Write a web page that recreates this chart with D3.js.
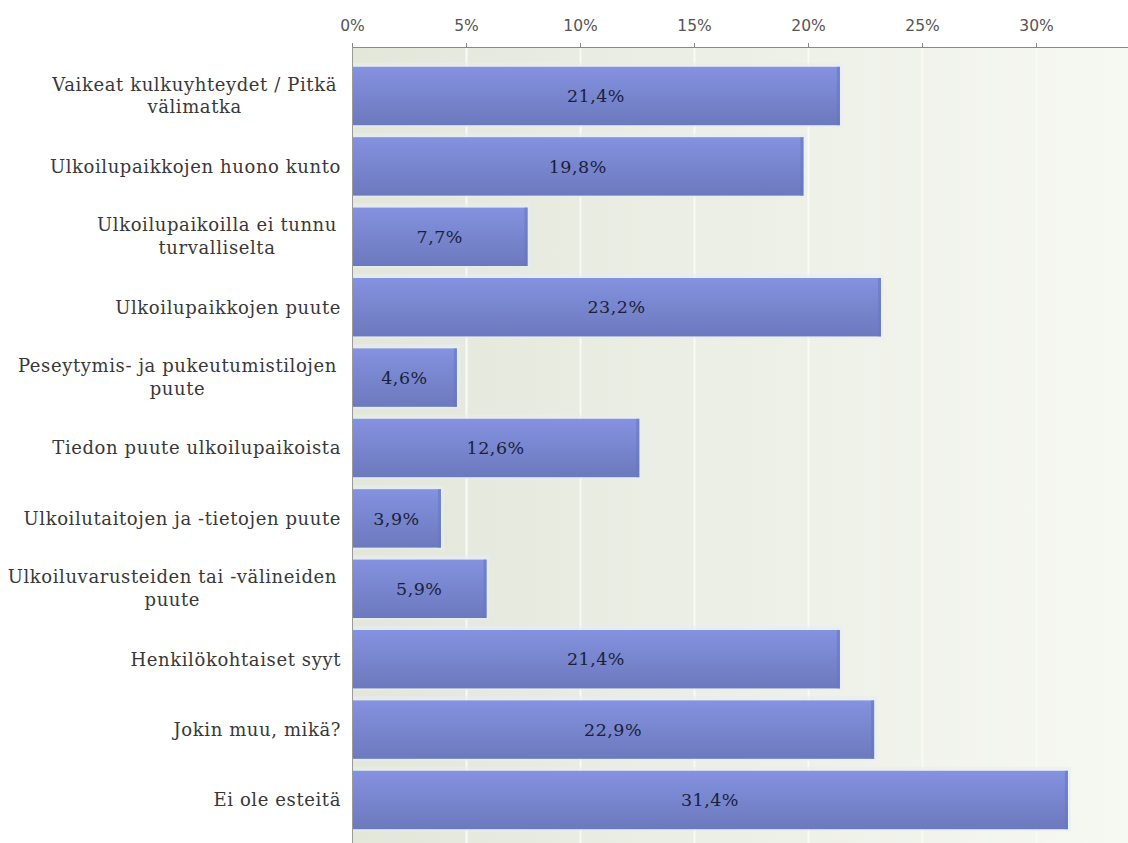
<!DOCTYPE html>
<html>
<head>
<meta charset="utf-8">
<script src="https://cdn.jsdelivr.net/npm/d3@7/dist/d3.min.js"></script>
<style>
  body { margin: 0; background: #fff; }
  .cat { font-family: "DejaVu Serif", serif; font-size: 18px; letter-spacing: 0.6px; fill: #383838; }
  .val { font-family: "DejaVu Serif", serif; font-size: 17.5px; letter-spacing: 0.5px; fill: #1a1f3a; }
  .axis text { font-family: "DejaVu Sans", sans-serif; font-size: 15.5px; fill: #555; }
</style>
</head>
<body>
<div id="chart"></div>
<script>
// data
const categories = [
    ["Vaikeat kulkuyhteydet / Pitkä", "välimatka"],
    ["Ulkoilupaikkojen huono kunto"],
    ["Ulkoilupaikoilla ei tunnu", "turvalliselta"],
    ["Ulkoilupaikkojen puute"],
    ["Peseytymis- ja pukeutumistilojen", "puute"],
    ["Tiedon puute ulkoilupaikoista"],
    ["Ulkoilutaitojen ja -tietojen puute"],
    ["Ulkoiluvarusteiden tai -välineiden", "puute"],
    ["Henkilökohtaiset syyt"],
    ["Jokin muu, mikä?"],
    ["Ei ole esteitä"]
];
const values = [21.4, 19.8, 7.7, 23.2, 4.6, 12.6, 3.9, 5.9, 21.4, 22.9, 31.4];
const tickValues = [0, 5, 10, 15, 20, 25, 30];

const W = 1128, H = 843;
const plotLeft = 352, plotTop = 47;
const pxPerPct = 22.8;

const svg = d3.select("#chart").append("svg")
    .attr("width", W)
    .attr("height", H);

const defs = svg.append("defs");
const bg = defs.append("linearGradient").attr("id", "bg")
    .attr("x1", "0%").attr("x2", "100%").attr("y1", "0%").attr("y2", "0%");
bg.append("stop").attr("offset", "0%").attr("stop-color", "#e3e7da");
bg.append("stop").attr("offset", "100%").attr("stop-color", "#f6f8f2");

const barGrad = defs.append("linearGradient").attr("id", "bar")
    .attr("x1", "0%").attr("x2", "0%").attr("y1", "0%").attr("y2", "100%");
barGrad.append("stop").attr("offset", "0%").attr("stop-color", "#8492e0");
barGrad.append("stop").attr("offset", "100%").attr("stop-color", "#6c79bd");

// scales
const x = d3.scaleLinear()
    .domain([0, 35])
    .range([plotLeft, plotLeft + 35 * pxPerPct]);

const y = d3.scaleBand()
    .domain(d3.range(categories.length))
    .range([60.8, 60.8 + categories.length * 70.4])
    .paddingInner(0.17)
    .paddingOuter(0.085);

// plot background
svg.append("rect")
    .attr("x", plotLeft)
    .attr("y", plotTop)
    .attr("width", W - plotLeft)
    .attr("height", H - plotTop)
    .attr("fill", "url(#bg)");

// grid
svg.append("g")
    .selectAll("line")
    .data(tickValues.slice(1))
    .enter()
    .append("line")
    .attr("x1", d => x(d) + 0.5)
    .attr("x2", d => x(d) + 0.5)
    .attr("y1", plotTop)
    .attr("y2", H)
    .attr("stroke", "#f9faf5")
    .attr("stroke-width", 2);

// light glow round bars
svg.append("g")
    .selectAll("rect")
    .data(values)
    .enter()
    .append("rect")
    .attr("x", x(0))
    .attr("y", (d, i) => y(i) - 4)
    .attr("width", d => x(d) - x(0) + 3)
    .attr("height", y.bandwidth() + 6)
    .attr("fill", "#e6ecf7")
    .attr("opacity", 0.6);

// bars
svg.append("g")
    .selectAll("rect")
    .data(values)
    .enter()
    .append("rect")
    .attr("x", x(0))
    .attr("y", (d, i) => y(i))
    .attr("width", d => x(d) - x(0))
    .attr("height", y.bandwidth())
    .attr("fill", "url(#bar)");

// bar right edge
svg.append("g")
    .selectAll("rect")
    .data(values)
    .enter()
    .append("rect")
    .attr("x", d => x(d) - 3)
    .attr("y", (d, i) => y(i))
    .attr("width", 3)
    .attr("height", y.bandwidth())
    .attr("fill", "#6776c4")
    .attr("opacity", 0.6);

// value labels
svg.append("g")
    .selectAll("text")
    .data(values)
    .enter()
    .append("text")
    .attr("class", "val")
    .attr("x", d => (x(0) + x(d)) / 2)
    .attr("y", (d, i) => y(i) + y.bandwidth() / 2)
    .attr("dy", "0.35em")
    .attr("text-anchor", "middle")
    .text(d => d.toFixed(1).replace(".", ",") + "%");

// category labels
const cats = svg.append("g")
    .selectAll("text")
    .data(categories)
    .enter()
    .append("text")
    .attr("class", "cat")
    .attr("text-anchor", "middle")
    .attr("transform", (d, i) => "translate(0," + (y(i) + y.bandwidth() / 2) + ")");

cats.each(function (d) {
    const t = d3.select(this);
    if (d.length === 1) {
        t.attr("text-anchor", "end")
            .append("tspan").attr("x", 341).attr("dy", "0.35em").text(d[0]);
    } else {
        const spans = d.map(function (line, j) {
            return t.append("tspan")
                .attr("dy", j === 0 ? "-0.3em" : "1.27em")
                .text(line);
        });
        const maxW = d3.max(spans, s => s.node().getComputedTextLength());
        spans.forEach(s => s.attr("x", 337 - maxW / 2));
    }
});

// top axis
const xAxis = d3.axisTop(x)
    .tickValues(tickValues)
    .tickSize(4)
    .tickPadding(12)
    .tickFormat(d => d + "%");

const ax = svg.append("g")
    .attr("class", "axis")
    .attr("transform", "translate(0," + plotTop + ")")
    .call(xAxis);
ax.select(".domain").remove();
ax.selectAll(".tick line").attr("stroke", "#888");

svg.append("line")
    .attr("x1", plotLeft).attr("x2", W)
    .attr("y1", plotTop + 0.5).attr("y2", plotTop + 0.5)
    .attr("stroke", "#8a8a8a");
svg.append("line")
    .attr("x1", plotLeft + 0.5).attr("x2", plotLeft + 0.5)
    .attr("y1", plotTop).attr("y2", H)
    .attr("stroke", "#9a9a9a");
</script>
</body>
</html>
